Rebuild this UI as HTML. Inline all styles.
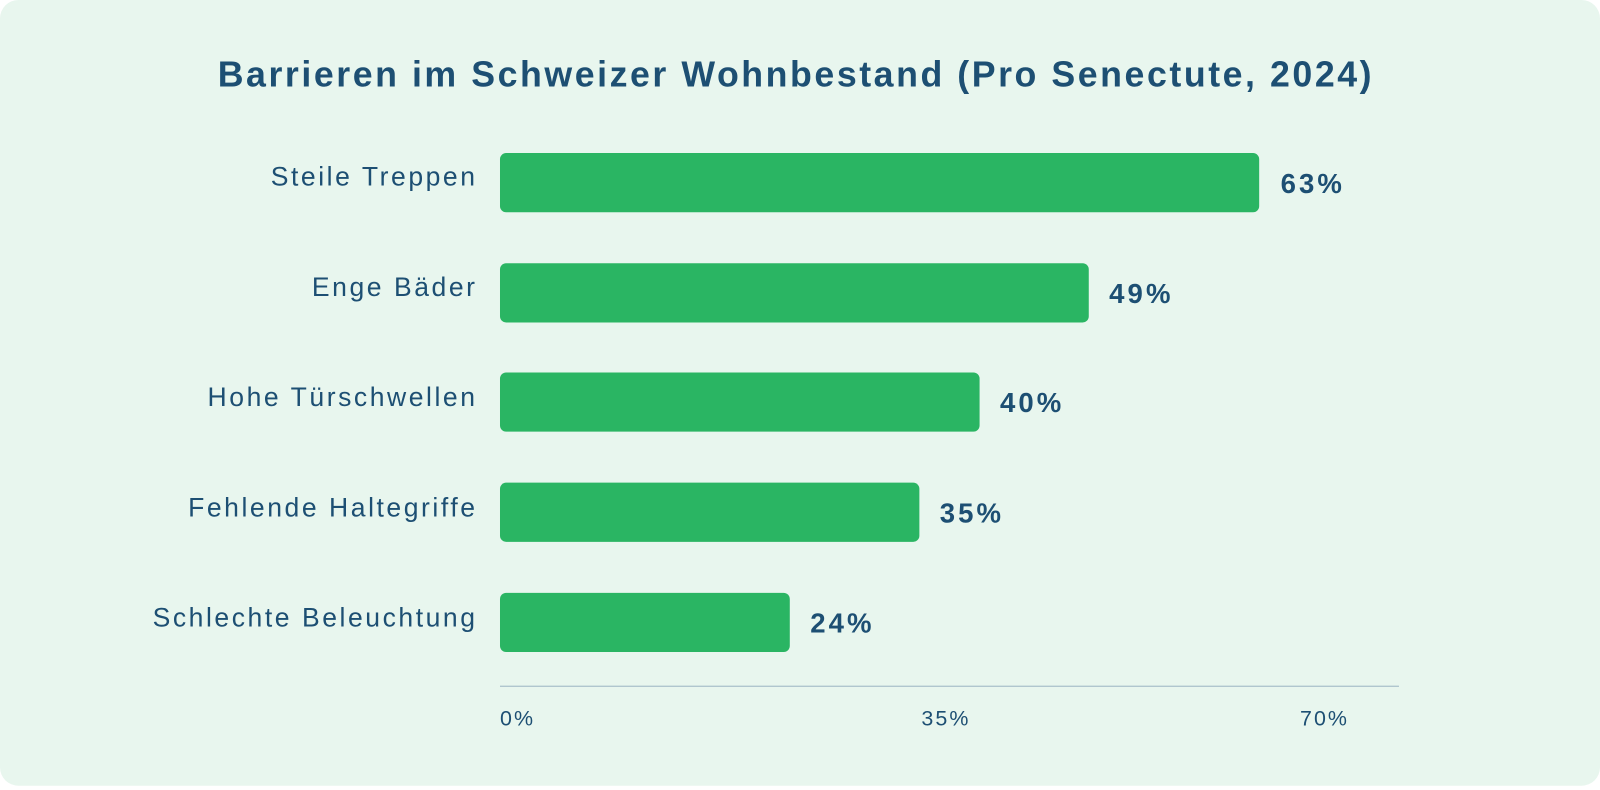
<!DOCTYPE html>
<html><head><style>
html,body{margin:0;padding:0;background:#fff;overflow:hidden;}
.c{position:absolute;left:0;top:0;width:1568px;height:774px;transform:scale(1.0204);transform-origin:0 0;}
.card{position:absolute;left:0;top:0;width:1568px;height:770px;background:#e8f6ee;border-radius:18px;}
.t{position:absolute;left:0;width:1560px;top:54px;text-align:center;font:bold 35px "Liberation Sans",sans-serif;color:#1d4f73;letter-spacing:2.5px;}
.l{position:absolute;right:1100px;font:26px "Liberation Sans",sans-serif;color:#1d4f73;letter-spacing:2.5px;white-space:nowrap;}
.b{position:absolute;left:490px;height:58px;background:#2ab563;border-radius:6px;}
.v{position:absolute;font:bold 27px "Liberation Sans",sans-serif;color:#1d4f73;letter-spacing:3px;}
.ax{position:absolute;left:490px;top:672px;width:881px;height:1px;background:#9bb5c2;}
.tk{position:absolute;top:693px;font:21px "Liberation Sans",sans-serif;color:#1d4f73;letter-spacing:2px;}
</style></head><body><div class="c"><div class="card"></div>
<div class="t">Barrieren im Schweizer Wohnbestand (Pro Senectute, 2024)</div>
<div class="l" style="top:158px">Steile Treppen</div>
<div class="b" style="top:150px;width:744px"></div><div class="v" style="left:1255px;top:165px">63%</div>
<div class="l" style="top:266px">Enge Bäder</div>
<div class="b" style="top:258px;width:577px"></div><div class="v" style="left:1087px;top:273px">49%</div>
<div class="l" style="top:374px">Hohe Türschwellen</div>
<div class="b" style="top:365px;width:470px"></div><div class="v" style="left:980px;top:380px">40%</div>
<div class="l" style="top:482px">Fehlende Haltegriffe</div>
<div class="b" style="top:473px;width:411px"></div><div class="v" style="left:921px;top:488px">35%</div>
<div class="l" style="top:590px">Schlechte Beleuchtung</div>
<div class="b" style="top:581px;width:284px"></div><div class="v" style="left:794px;top:596px">24%</div>
<div class="ax"></div>
<div class="tk" style="left:490px">0%</div>
<div class="tk" style="left:903px">35%</div>
<div class="tk" style="left:1274px">70%</div>
</div></body></html>
